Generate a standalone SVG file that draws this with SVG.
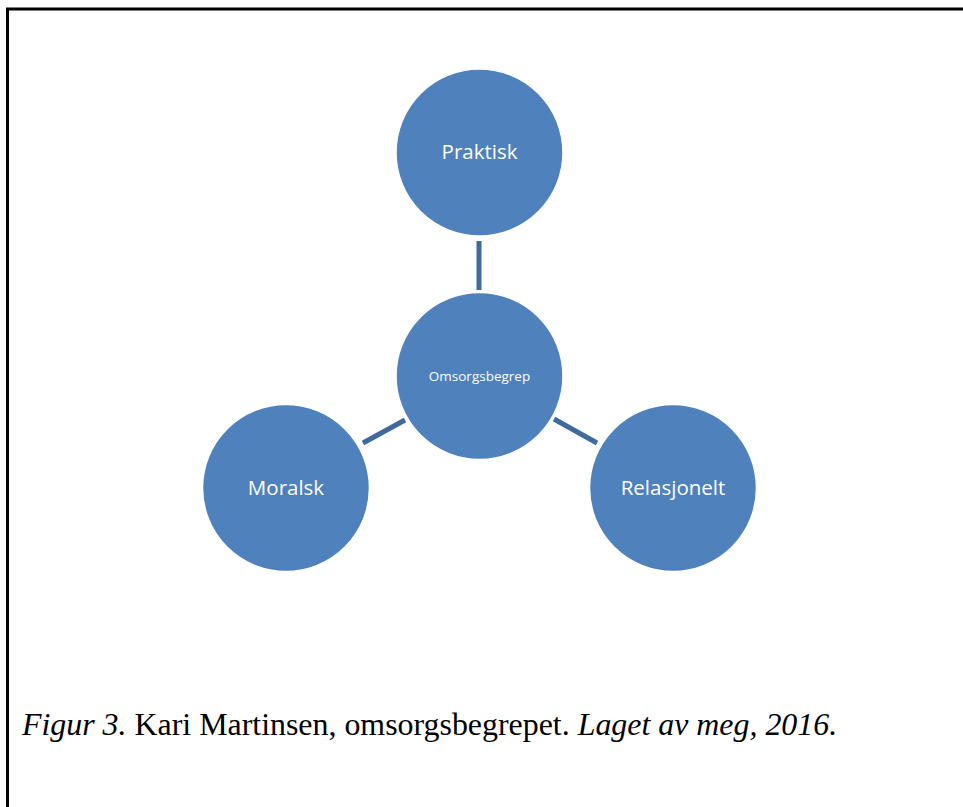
<svg xmlns="http://www.w3.org/2000/svg" width="963" height="807" viewBox="0 0 963 807">
<style>
.n{fill:#4F81BD;stroke:#ffffff;stroke-width:1.5}
.t{fill:#ffffff;font-family:"Open Sans","Liberation Sans",sans-serif;text-anchor:middle}
.c{stroke:#3F6A9B;stroke-width:5;fill:none}
.cap{font-family:"Liberation Serif","Times New Roman",serif;font-size:31.9px;fill:#000}
</style>
<rect width="963" height="807" fill="#ffffff"/>
<path d="M7.5,807 V9 H963" fill="none" stroke="#000" stroke-width="3"/>
<g id="connectors">
<line class="c" x1="479" y1="241" x2="479" y2="290"/>
<line class="c" x1="405" y1="420" x2="363" y2="443"/>
<line class="c" x1="554" y1="419" x2="597" y2="443"/>
</g>
<g id="praktisk"><circle class="n" cx="479.5" cy="152.5" r="83.5"/><text class="t" x="479.5" y="159" font-size="20.5">Praktisk</text></g>
<g id="omsorgsbegrep"><circle class="n" cx="479.5" cy="376" r="83.5"/><text class="t" x="479.5" y="381" font-size="13.5">Omsorgsbegrep</text></g>
<g id="moralsk"><circle class="n" cx="286" cy="488" r="83.5"/><text class="t" x="286" y="495" font-size="20.5">Moralsk</text></g>
<g id="relasjonelt"><circle class="n" cx="673" cy="488" r="83.5"/><text class="t" x="673" y="495" font-size="20.5">Relasjonelt</text></g>
<text class="cap" x="22" y="735"><tspan font-style="italic">Figur 3.</tspan> Kari Martinsen, omsorgsbegrepet. <tspan font-style="italic">Laget av meg, 2016.</tspan></text>
</svg>
